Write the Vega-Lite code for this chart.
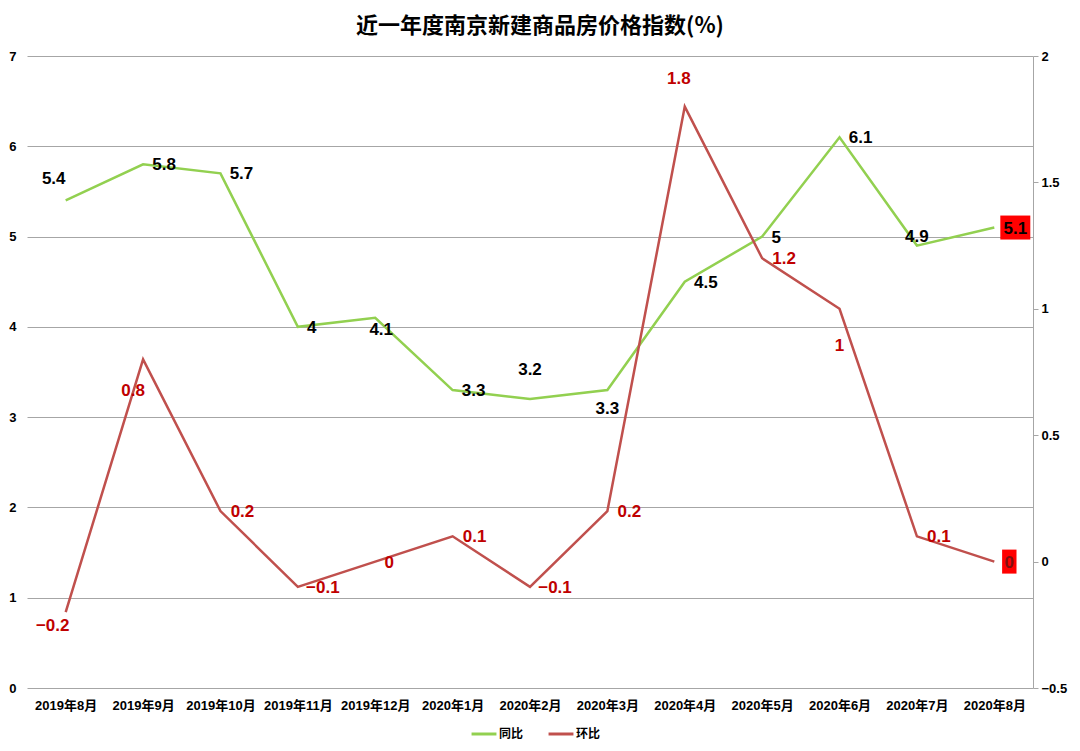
{
  "$schema": "https://vega.github.io/schema/vega-lite/v6.json",
  "autosize": "none",
  "width": 1006,
  "height": 632,
  "padding": {"left": 27, "top": 56, "right": 47, "bottom": 63},
  "background": "#ffffff",
  "title": {
    "text": "近一年度南京新建商品房价格指数(%)",
    "font": "Noto Sans CJK SC",
    "fontSize": 22,
    "fontWeight": "bold",
    "color": "#000000",
    "anchor": "middle",
    "offset": 12,
    "dx": 10
  },
  "config": {
    "view": {"stroke": null},
    "axis": {
      "labelFont": "Liberation Sans, Noto Sans CJK SC",
      "labelFontSize": 13,
      "labelFontWeight": "bold",
      "labelColor": "#000000",
      "title": null
    },
    "legend": {
      "labelFont": "Noto Sans CJK SC",
      "labelFontSize": 12,
      "labelFontWeight": "bold",
      "labelColor": "#000000"
    }
  },
  "data": {
    "values": [
      {"month": "2019年8月", "series": "同比", "value": 5.4},
      {"month": "2019年9月", "series": "同比", "value": 5.8},
      {"month": "2019年10月", "series": "同比", "value": 5.7},
      {"month": "2019年11月", "series": "同比", "value": 4},
      {"month": "2019年12月", "series": "同比", "value": 4.1},
      {"month": "2020年1月", "series": "同比", "value": 3.3},
      {"month": "2020年2月", "series": "同比", "value": 3.2},
      {"month": "2020年3月", "series": "同比", "value": 3.3},
      {"month": "2020年4月", "series": "同比", "value": 4.5},
      {"month": "2020年5月", "series": "同比", "value": 5},
      {"month": "2020年6月", "series": "同比", "value": 6.1},
      {"month": "2020年7月", "series": "同比", "value": 4.9},
      {"month": "2020年8月", "series": "同比", "value": 5.1},
      {"month": "2019年8月", "series": "环比", "value": -0.2},
      {"month": "2019年9月", "series": "环比", "value": 0.8},
      {"month": "2019年10月", "series": "环比", "value": 0.2},
      {"month": "2019年11月", "series": "环比", "value": -0.1},
      {"month": "2019年12月", "series": "环比", "value": 0},
      {"month": "2020年1月", "series": "环比", "value": 0.1},
      {"month": "2020年2月", "series": "环比", "value": -0.1},
      {"month": "2020年3月", "series": "环比", "value": 0.2},
      {"month": "2020年4月", "series": "环比", "value": 1.8},
      {"month": "2020年5月", "series": "环比", "value": 1.2},
      {"month": "2020年6月", "series": "环比", "value": 1},
      {"month": "2020年7月", "series": "环比", "value": 0.1},
      {"month": "2020年8月", "series": "环比", "value": 0}
    ]
  },
  "encoding": {
    "x": {
      "field": "month",
      "type": "ordinal",
      "sort": null,
      "scale": {"type": "point", "padding": 0.5},
      "axis": {
        "labelAngle": 0,
        "ticks": false,
        "domain": false,
        "labelPadding": 11,
        "title": null
      }
    }
  },
  "layer": [
    {
      "transform": [{"filter": "datum.series === '同比'"}],
      "encoding": {
        "y": {
          "field": "value",
          "type": "quantitative",
          "scale": {"domain": [0, 7], "nice": false, "zero": false},
          "axis": {
            "orient": "left",
            "values": [0, 1, 2, 3, 4, 5, 6, 7],
            "grid": true,
            "gridColor": "#a6a6a6",
            "gridWidth": 1,
            "domain": false,
            "ticks": false,
            "labelPadding": 11,
            "title": null
          }
        }
      },
      "layer": [
        {
          "mark": {"type": "line", "strokeWidth": 2.5},
          "encoding": {
            "color": {
              "field": "series",
              "type": "nominal",
              "scale": {"domain": ["同比", "环比"], "range": ["#92d050", "#c0504d"]},
              "legend": {
                "orient": "none",
                "legendX": 443,
                "legendY": 664,
                "direction": "horizontal",
                "symbolType": "stroke",
                "symbolStrokeWidth": 3,
                "symbolSize": 620,
                "columnPadding": 18,
                "labelOffset": 1,
                "title": null
              }
            }
          }
        },
        {
          "transform": [{"filter": "datum.month === '2020年8月'"}],
          "mark": {"type": "point", "shape": "M-1.25,-1L1.25,-1L1.25,1L-1.25,1Z", "filled": true, "fill": "#ff0000", "opacity": 1, "strokeWidth": 0, "size": 576, "xOffset": 21}
        },
        {
          "transform": [{"filter": {"field": "month", "oneOf": ["2019年9月", "2019年10月", "2020年1月", "2020年4月", "2020年6月", "2020年8月"]}}],
          "mark": {"type": "text", "font": "Liberation Sans", "fontSize": 17, "fontWeight": "bold", "color": "#000000", "dx": 21, "dy": 1},
          "encoding": {"text": {"field": "value", "type": "quantitative"}}
        },
        {
          "transform": [{"filter": {"field": "month", "oneOf": ["2019年11月", "2020年5月"]}}],
          "mark": {"type": "text", "font": "Liberation Sans", "fontSize": 17, "fontWeight": "bold", "color": "#000000", "dx": 14, "dy": 1},
          "encoding": {"text": {"field": "value", "type": "quantitative"}}
        },
        {
          "transform": [{"filter": {"field": "month", "oneOf": ["2019年12月"]}}],
          "mark": {"type": "text", "font": "Liberation Sans", "fontSize": 17, "fontWeight": "bold", "color": "#000000", "dx": 6, "dy": 12},
          "encoding": {"text": {"field": "value", "type": "quantitative"}}
        },
        {
          "transform": [{"filter": {"field": "month", "oneOf": ["2020年2月"]}}],
          "mark": {"type": "text", "font": "Liberation Sans", "fontSize": 17, "fontWeight": "bold", "color": "#000000", "dx": 0, "dy": -29},
          "encoding": {"text": {"field": "value", "type": "quantitative"}}
        },
        {
          "transform": [{"filter": {"field": "month", "oneOf": ["2020年7月"]}}],
          "mark": {"type": "text", "font": "Liberation Sans", "fontSize": 17, "fontWeight": "bold", "color": "#000000", "dx": 0, "dy": -9},
          "encoding": {"text": {"field": "value", "type": "quantitative"}}
        },
        {
          "transform": [{"filter": {"field": "month", "oneOf": ["2020年3月"]}}],
          "mark": {"type": "text", "font": "Liberation Sans", "fontSize": 17, "fontWeight": "bold", "color": "#000000", "dx": 0, "dy": 19},
          "encoding": {"text": {"field": "value", "type": "quantitative"}}
        },
        {
          "transform": [{"filter": {"field": "month", "oneOf": ["2019年8月"]}}],
          "mark": {"type": "text", "font": "Liberation Sans", "fontSize": 17, "fontWeight": "bold", "color": "#000000", "dx": -12, "dy": -21},
          "encoding": {"text": {"field": "value", "type": "quantitative"}}
        }
      ]
    },
    {
      "transform": [{"filter": "datum.series === '环比'"}],
      "encoding": {
        "y": {
          "field": "value",
          "type": "quantitative",
          "scale": {"domain": [-0.5, 2], "nice": false, "zero": false},
          "axis": {
            "orient": "right",
            "values": [-0.5, 0, 0.5, 1, 1.5, 2],
            "format": "~g",
            "grid": false,
            "domain": true,
            "domainColor": "#a6a6a6",
            "ticks": true,
            "tickColor": "#a6a6a6",
            "tickSize": 5,
            "labelPadding": 3,
            "title": null
          }
        }
      },
      "layer": [
        {
          "mark": {"type": "line", "strokeWidth": 2.5},
          "encoding": {
            "color": {"field": "series", "type": "nominal"}
          }
        },
        {
          "transform": [{"filter": "datum.month === '2020年8月'"}],
          "mark": {"type": "point", "shape": "M-0.6,-1L0.6,-1L0.6,1L-0.6,1Z", "filled": true, "fill": "#ff0000", "opacity": 1, "strokeWidth": 0, "size": 576, "xOffset": 15}
        },
        {
          "transform": [{"filter": {"field": "month", "oneOf": ["2019年10月", "2020年1月", "2020年3月", "2020年5月", "2020年7月"]}}],
          "mark": {"type": "text", "font": "Liberation Sans", "fontSize": 17, "fontWeight": "bold", "color": "#c00000", "dx": 22, "dy": 1},
          "encoding": {"text": {"field": "value", "type": "quantitative"}}
        },
        {
          "transform": [{"filter": {"field": "month", "oneOf": ["2019年11月", "2020年2月"]}}],
          "mark": {"type": "text", "font": "Liberation Sans", "fontSize": 17, "fontWeight": "bold", "color": "#c00000", "dx": 25, "dy": 1},
          "encoding": {"text": {"field": "value", "type": "quantitative"}}
        },
        {
          "transform": [{"filter": {"field": "month", "oneOf": ["2019年12月"]}}],
          "mark": {"type": "text", "font": "Liberation Sans", "fontSize": 17, "fontWeight": "bold", "color": "#c00000", "dx": 14, "dy": 1},
          "encoding": {"text": {"field": "value", "type": "quantitative"}}
        },
        {
          "transform": [{"filter": {"field": "month", "oneOf": ["2020年8月"]}}],
          "mark": {"type": "text", "font": "Liberation Sans", "fontSize": 17, "fontWeight": "bold", "color": "#7f1010", "dx": 15, "dy": 1},
          "encoding": {"text": {"field": "value", "type": "quantitative"}}
        },
        {
          "transform": [{"filter": {"field": "month", "oneOf": ["2020年4月"]}}],
          "mark": {"type": "text", "font": "Liberation Sans", "fontSize": 17, "fontWeight": "bold", "color": "#c00000", "dx": -6, "dy": -28},
          "encoding": {"text": {"field": "value", "type": "quantitative"}}
        },
        {
          "transform": [{"filter": {"field": "month", "oneOf": ["2019年9月"]}}],
          "mark": {"type": "text", "font": "Liberation Sans", "fontSize": 17, "fontWeight": "bold", "color": "#c00000", "dx": -10, "dy": 32},
          "encoding": {"text": {"field": "value", "type": "quantitative"}}
        },
        {
          "transform": [{"filter": {"field": "month", "oneOf": ["2020年6月"]}}],
          "mark": {"type": "text", "font": "Liberation Sans", "fontSize": 17, "fontWeight": "bold", "color": "#c00000", "dx": 0, "dy": 37},
          "encoding": {"text": {"field": "value", "type": "quantitative"}}
        },
        {
          "transform": [{"filter": {"field": "month", "oneOf": ["2019年8月"]}}],
          "mark": {"type": "text", "font": "Liberation Sans", "fontSize": 17, "fontWeight": "bold", "color": "#c00000", "dx": -13, "dy": 14},
          "encoding": {"text": {"field": "value", "type": "quantitative"}}
        }
      ]
    }
  ],
  "resolve": {"scale": {"y": "independent"}}
}
